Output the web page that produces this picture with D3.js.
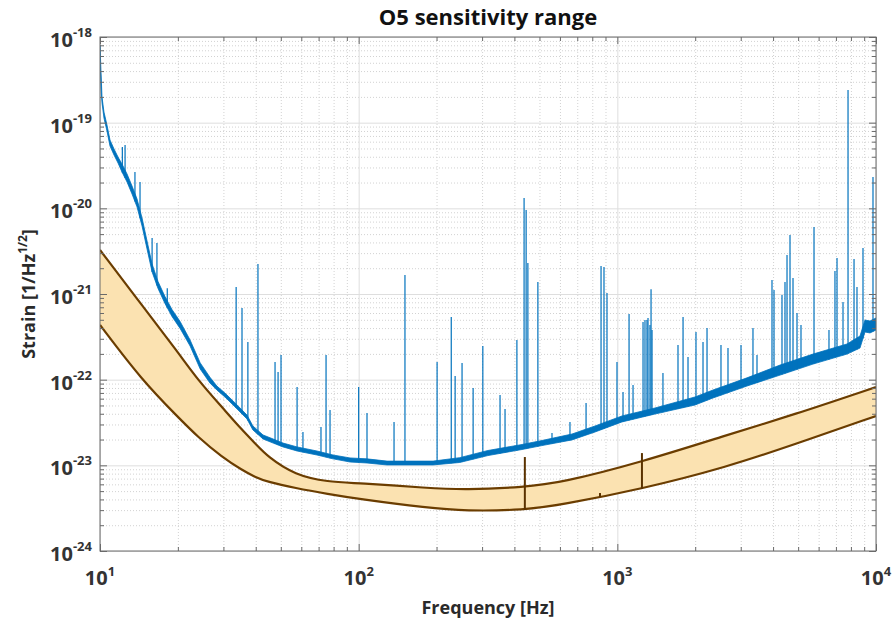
<!DOCTYPE html>
<html lang="en">
  <head>
    <meta charset="UTF-8" />
    <title>O5 sensitivity range</title>
    <style>
      body {
        margin: 0;
        background: #fff;
        font-family: "Open Sans", sans-serif;
      }
      .grid-major line {
        stroke: #dedede;
        stroke-width: 1;
      }
      .grid-minor line {
        stroke: #d2d2d2;
        stroke-width: 1;
        stroke-dasharray: 1, 2;
      }
      .grid-major path,
      .grid-minor path {
        display: none;
      }
      .axis path {
        display: none;
      }
      .axis line {
        stroke: #6a6a6a;
      }
      .tick-label {
        font-size: 20px;
        font-weight: 700;
        fill: #333;
      }
      .title {
        font-size: 22px;
        font-weight: 700;
        fill: #111;
      }
      .axis-label {
        font-size: 18px;
        font-weight: 700;
        fill: #2a2a2a;
      }
    </style>
  </head>
  <body>
    <svg width="892" height="620"></svg>

    <script src="https://d3js.org/d3.v7.min.js"></script>
    <script>
      // measured noise trace (lower / upper edge of the blue band)
      const asdFreq = [
        10, 10.09, 10.18, 10.36, 10.64, 10.93, 11.33, 11.74, 12.16, 12.72,
        13.3, 13.9, 14.54, 15.2, 15.9, 16.76, 17.83, 18.98, 20.4, 22.3,
        24.4, 26.6, 28.3, 30.4, 32.7, 34.8, 37.0, 39.0, 42.7, 46.7,
        51.0, 57.8, 69.0, 79.6, 92.6, 107.7, 128.7, 168, 194, 246,
        316, 428, 511, 668, 820, 1042, 1398, 1996, 2343, 3171,
        4255, 5707, 7726, 8671, 9066, 9480, 10000,
      ];
      const asdLow = [
        6.17e-19, 2.54e-19, 1.7e-19, 1.13e-19, 7.99e-20, 5.34e-20, 4.19e-20, 3.38e-20, 2.66e-20, 2.03e-20,
        1.47e-20, 1.04e-20, 6.22e-21, 3.35e-21, 1.81e-21, 1.16e-21, 7.75e-22, 5.46e-22, 3.96e-22, 2.47e-22,
        1.33e-22, 9.15e-23, 7.57e-23, 6.28e-23, 5.06e-23, 4.19e-23, 3.48e-23, 2.59e-23, 2.03e-23, 1.82e-23,
        1.64e-23, 1.47e-23, 1.32e-23, 1.19e-23, 1.094e-23, 1.065e-23, 1.01e-23, 1.01e-23, 1.01e-23, 1.08e-23,
        1.3e-23, 1.53e-23, 1.7e-23, 1.98e-23, 2.45e-23, 3.21e-23, 3.97e-23, 5.06e-23, 6.11e-23, 8.43e-23,
        1.13e-22, 1.52e-22, 1.99e-22, 2.34e-22, 3.6e-22, 3.51e-22, 3.8e-22,
      ];
      const asdHigh = [
        8.07e-19, 3.9e-19, 1.99e-19, 1.33e-19, 9.39e-20, 6.28e-20, 4.93e-20, 3.97e-20, 3.29e-20, 2.52e-20,
        1.82e-20, 1.29e-20, 7.71e-21, 4.16e-21, 2.24e-21, 1.4e-21, 9.35e-22, 6.59e-22, 4.78e-22, 2.9e-22,
        1.57e-22, 1.07e-22, 8.43e-23, 6.99e-23, 5.64e-23, 4.67e-23, 3.87e-23, 2.88e-23, 2.26e-23, 2.03e-23,
        1.82e-23, 1.64e-23, 1.47e-23, 1.32e-23, 1.22e-23, 1.19e-23, 1.12e-23, 1.12e-23, 1.12e-23, 1.23e-23,
        1.49e-23, 1.75e-23, 1.95e-23, 2.32e-23, 2.88e-23, 3.77e-23, 4.67e-23, 6.28e-23, 7.57e-23, 1.05e-22,
        1.48e-22, 1.99e-22, 2.61e-22, 3.23e-22, 4.97e-22, 4.84e-22, 5.25e-22,
      ];

      // narrow lines sticking out of the noise floor
      const spikeFreq = [
        12.2, 12.5, 13.65, 14.28, 15.9, 16.6, 18.2, 33.6, 35.4, 37.3,
        40.8, 47.5, 48.8, 50.1, 57.8, 60.9, 71.5, 74.8, 77.5, 100,
        107.7, 137, 151, 201, 228, 236, 251, 277, 302, 352,
        368, 409, 436, 444, 451, 493, 559, 656, 757, 865,
        888, 912, 997, 1052, 1110, 1150, 1257, 1279, 1302, 1314,
        1337, 1350, 1362, 1501, 1716, 1795, 1876, 2014, 2144, 2222,
        2516, 2678, 3007, 3345, 3467, 3962, 4034, 4331, 4448, 4529,
        4651, 4777, 4950, 5129, 5759, 6580, 6940, 7068, 7455, 7796,
        8224, 8443, 8907, 9736,
      ];
      const spikePeak = [
        5.2e-20, 5.49e-20, 2.66e-20, 2.03e-20, 4.51e-21, 3.94e-21, 1.17e-21, 1.21e-21, 6.87e-22, 2.75e-22,
        2.24e-21, 1.61e-22, 1.23e-22, 1.94e-22, 8.21e-23, 2.45e-23, 2.8e-23, 1.94e-22, 4.43e-23, 8.21e-23,
        4.08e-23, 3.21e-23, 1.67e-21, 1.61e-22, 5.39e-22, 1.1e-22, 1.57e-22, 8.0e-23, 2.47e-22, 6.62e-23,
        4.55e-23, 2.9e-22, 1.32e-20, 9.56e-21, 2.3e-21, 1.38e-21, 2.38e-23, 3.21e-23, 5.34e-23, 2.12e-21,
        2.07e-21, 1.03e-21, 1.61e-22, 7.18e-23, 5.84e-22, 8.67e-23, 4.71e-22, 4.97e-22, 4.97e-22, 5.25e-22,
        4.35e-22, 1.14e-21, 3.8e-22, 1.2e-22, 2.54e-22, 5.39e-22, 1.84e-22, 3.6e-22, 2.75e-22, 4.01e-22,
        2.54e-22, 2.34e-22, 2.54e-22, 4.01e-22, 1.94e-22, 1.46e-21, 1.11e-21, 9.74e-22, 1.38e-21, 2.85e-21,
        4.88e-21, 1.54e-21, 6.0e-22, 4.35e-22, 6.06e-21, 3.8e-22, 1.86e-21, 2.63e-21, 8.06e-22, 2.41e-19,
        2.56e-21, 1.21e-21, 3.44e-21, 2.32e-20,
      ];

      // O5 design sensitivity range (orange band)
      const bandFreq = [
        10, 14.5, 20.0, 23.9, 29.6, 35.4, 39.7, 44.6, 56.7, 76.1,
        100, 185, 258, 439, 600, 1245, 2655, 4775, 10000,
      ];
      const bandUpper = [
        3.26e-21, 7.44e-22, 2.1e-22, 9.91e-23, 4.8e-23, 2.59e-23, 1.82e-23, 1.25e-23, 7.71e-24, 6.39e-24,
        6.22e-24, 5.44e-24, 5.16e-24, 5.59e-24, 6.22e-24, 1.094e-23, 2.26e-23, 3.87e-23, 8.21e-23,
      ];
      const bandLower = [
        4.35e-22, 9.91e-23, 3.67e-23, 2.14e-23, 1.25e-23, 8.82e-24, 7.31e-24, 6.39e-24, 5.44e-24, 4.63e-24,
        4.05e-24, 3.18e-24, 2.93e-24, 3.01e-24, 3.44e-24, 5.3e-24, 9.56e-24, 1.73e-23, 3.77e-23,
      ];
      // short vertical markers on the band: [freq, from, to]
      const bandMarks = [
        [439, 3.01e-24, 1.25e-23],
        [1245, 5.3e-24, 1.39e-23],
        [857, 4.27e-24, 4.75e-24],
      ];

      const xTickExp = [1, 2, 3, 4];
      const yTickExp = [-24, -23, -22, -21, -20, -19, -18];

      const margin = { top: 37, right: 16, bottom: 69, left: 100 };
      const width = 892 - margin.left - margin.right,
        height = 620 - margin.top - margin.bottom;

      const svg = d3.select("svg");
      const g = svg
        .append("g")
        .attr("transform", `translate(${margin.left},${margin.top})`);

      const x = d3.scaleLog().domain([10, 1e4]).range([0, width]);
      const y = d3.scaleLog().domain([1e-24, 1e-18]).range([height, 0]);

      const majorX = xTickExp.map((e) => Math.pow(10, e));
      const majorY = yTickExp.map((e) => Math.pow(10, e));
      const minorX = [];
      xTickExp.slice(0, -1).forEach((e) => {
        for (let k = 2; k <= 9; k++) minorX.push(k * Math.pow(10, e));
      });
      const minorY = [];
      yTickExp.slice(0, -1).forEach((e) => {
        for (let k = 2; k <= 9; k++) minorY.push(k * Math.pow(10, e));
      });

      // grid
      g.append("g")
        .attr("class", "grid-minor")
        .attr("transform", `translate(0,${height})`)
        .call(d3.axisBottom(x).tickValues(minorX).tickSize(-height).tickFormat(""));
      g.append("g")
        .attr("class", "grid-minor")
        .call(d3.axisLeft(y).tickValues(minorY).tickSize(-width).tickFormat(""));
      g.append("g")
        .attr("class", "grid-major")
        .attr("transform", `translate(0,${height})`)
        .call(d3.axisBottom(x).tickValues(majorX).tickSize(-height).tickFormat(""));
      g.append("g")
        .attr("class", "grid-major")
        .call(d3.axisLeft(y).tickValues(majorY).tickSize(-width).tickFormat(""));

      svg
        .append("clipPath")
        .attr("id", "plot-clip")
        .append("rect")
        .attr("width", width)
        .attr("height", height);

      const plot = g.append("g").attr("clip-path", "url(#plot-clip)");

      // orange band
      const band = bandFreq.map((f, i) => ({ f, hi: bandUpper[i], lo: bandLower[i] }));
      plot
        .append("path")
        .datum(band)
        .attr("fill", "#fbe2b1")
        .attr(
          "d",
          d3
            .area()
            .x((d) => x(d.f))
            .y0((d) => y(d.lo))
            .y1((d) => y(d.hi))
            .curve(d3.curveBasis)
        );
      ["hi", "lo"].forEach((key) => {
        plot
          .append("path")
          .datum(band)
          .attr("fill", "none")
          .attr("stroke", "#6b3d00")
          .attr("stroke-width", 2.2)
          .attr(
            "d",
            d3
              .line()
              .x((d) => x(d.f))
              .y((d) => y(d[key]))
              .curve(d3.curveBasis)
          );
      });
      plot
        .selectAll(".band-mark")
        .data(bandMarks)
        .join("line")
        .attr("class", "band-mark")
        .attr("x1", (d) => x(d[0]))
        .attr("x2", (d) => x(d[0]))
        .attr("y1", (d) => y(d[1]))
        .attr("y2", (d) => y(d[2]))
        .attr("stroke", "#5a3200")
        .attr("stroke-width", 2);

      // blue noise trace
      const asd = asdFreq.map((f, i) => ({ f, lo: asdLow[i], hi: asdHigh[i] }));
      plot
        .append("path")
        .datum(asd)
        .attr("fill", "#0072bd")
        .attr("stroke", "#0072bd")
        .attr("stroke-width", 0.8)
        .attr(
          "d",
          d3
            .area()
            .x((d) => x(d.f))
            .y0((d) => y(d.lo))
            .y1((d) => y(d.hi))
        );

      function floorAt(f) {
        const i = d3.bisectRight(asdFreq, f);
        const i0 = Math.max(0, i - 1),
          i1 = Math.min(asdFreq.length - 1, i);
        if (i0 === i1) return asdLow[i0];
        const t =
          (Math.log(f) - Math.log(asdFreq[i0])) /
          (Math.log(asdFreq[i1]) - Math.log(asdFreq[i0]));
        return Math.exp(
          Math.log(asdLow[i0]) + t * (Math.log(asdLow[i1]) - Math.log(asdLow[i0]))
        );
      }

      plot
        .selectAll(".spike")
        .data(spikeFreq.map((f, i) => ({ f, peak: spikePeak[i] })))
        .join("line")
        .attr("class", "spike")
        .attr("x1", (d) => x(d.f))
        .attr("x2", (d) => x(d.f))
        .attr("y1", (d) => y(floorAt(d.f)))
        .attr("y2", (d) => y(d.peak))
        .attr("stroke", "#0072bd")
        .attr("stroke-width", 1.2);

      // box with inward ticks
      g.append("rect")
        .attr("width", width)
        .attr("height", height)
        .attr("fill", "none")
        .attr("stroke", "#6a6a6a")
        .attr("stroke-width", 1);

      const tickSets = [
        [d3.axisBottom(x), `translate(0,${height})`, majorX, minorX],
        [d3.axisTop(x), null, majorX, minorX],
        [d3.axisLeft(y), null, majorY, minorY],
        [d3.axisRight(y), `translate(${width},0)`, majorY, minorY],
      ];
      tickSets.forEach(([axis, tr, major, minor]) => {
        const a1 = g.append("g").attr("class", "axis");
        if (tr) a1.attr("transform", tr);
        a1.call(axis.tickValues(major).tickSize(-7).tickFormat(""));
        const a2 = g.append("g").attr("class", "axis");
        if (tr) a2.attr("transform", tr);
        a2.call(axis.tickValues(minor).tickSize(-4).tickFormat(""));
      });

      // tick labels (10 with superscript exponent)
      const xl = g
        .selectAll(".x-label")
        .data(xTickExp)
        .join("text")
        .attr("class", "tick-label")
        .attr("text-anchor", "middle")
        .attr("x", (e) => x(Math.pow(10, e)))
        .attr("y", height + 34);
      xl.append("tspan").text("10");
      xl.append("tspan")
        .attr("dy", -9)
        .attr("font-size", 13)
        .text((e) => e);

      const yl = g
        .selectAll(".y-label")
        .data(yTickExp)
        .join("text")
        .attr("class", "tick-label")
        .attr("text-anchor", "end")
        .attr("x", -8)
        .attr("y", (e) => y(Math.pow(10, e)) + 10);
      yl.append("tspan").text("10");
      yl.append("tspan")
        .attr("dy", -10)
        .attr("font-size", 13)
        .text((e) => e);

      svg
        .append("text")
        .attr("class", "title")
        .attr("text-anchor", "middle")
        .attr("x", margin.left + width / 2)
        .attr("y", 25)
        .text("O5 sensitivity range");

      svg
        .append("text")
        .attr("class", "axis-label")
        .attr("text-anchor", "middle")
        .attr("x", margin.left + width / 2)
        .attr("y", 614)
        .text("Frequency [Hz]");

      const yTitle = svg
        .append("text")
        .attr("class", "axis-label")
        .attr("text-anchor", "middle")
        .attr("transform", `translate(35,${margin.top + height / 2}) rotate(-90)`);
      yTitle.append("tspan").text("Strain [1/Hz");
      yTitle.append("tspan").attr("dy", -8).attr("font-size", 12).text("1/2");
      yTitle.append("tspan").attr("dy", 8).text("]");
    </script>
  </body>
</html>
